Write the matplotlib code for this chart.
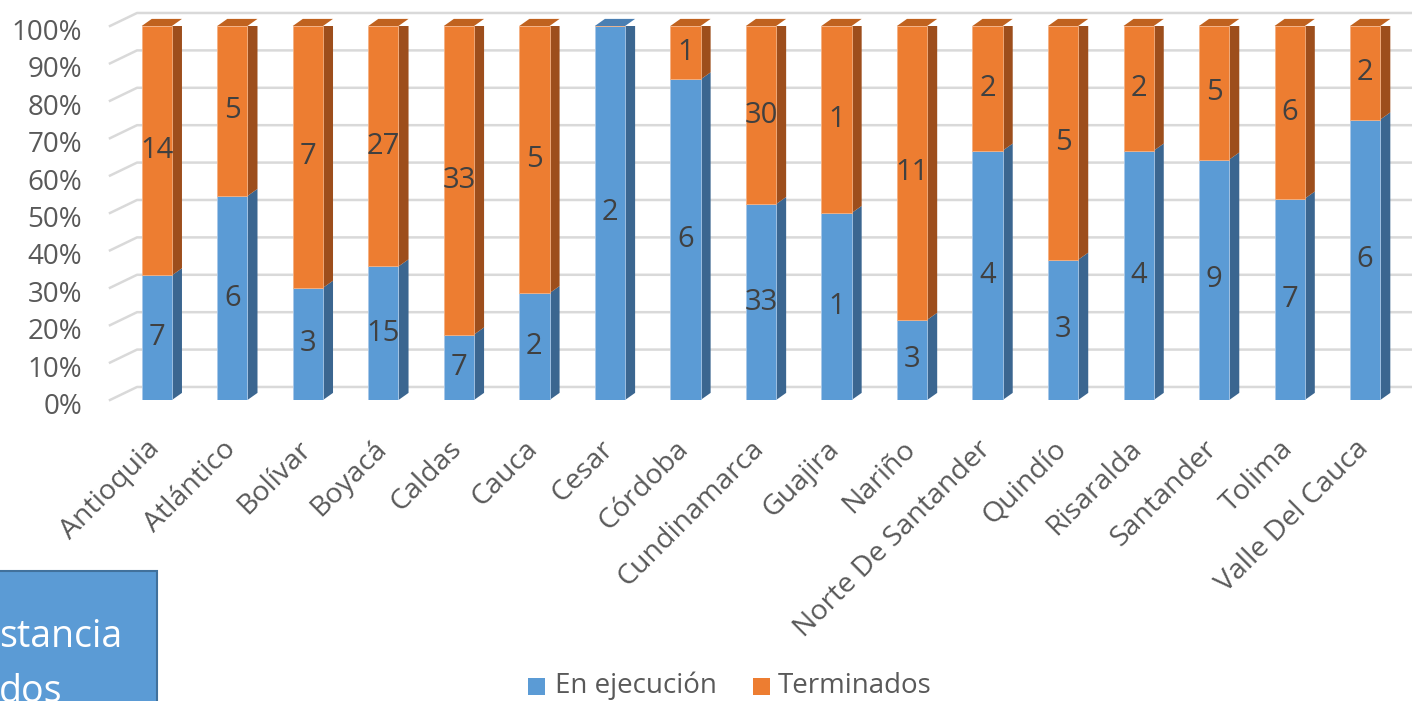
import numpy as np
import matplotlib.pyplot as plt
from matplotlib.patches import Polygon, Rectangle
from matplotlib import transforms

# data
departments = ['Antioquia', 'Atlántico', 'Bolívar', 'Boyacá', 'Caldas', 'Cauca', 'Cesar',
               'Córdoba', 'Cundinamarca', 'Guajira', 'Nariño', 'Norte De Santander',
               'Quindío', 'Risaralda', 'Santander', 'Tolima', 'Valle Del Cauca']
en_ejecucion = [7, 6, 3, 15, 7, 2, 2, 6, 33, 1, 3, 4, 3, 4, 9, 7, 6]
terminados = [14, 5, 7, 27, 33, 5, 0, 1, 30, 1, 11, 2, 5, 2, 5, 6, 2]
y_ticks = list(range(0, 101, 10))

plt.rcParams['font.family'] = ['Open Sans', 'DejaVu Sans']

blue, blue_side, blue_top = '#5b9bd5', '#3b6690', '#4a7fb3'
orange, orange_side, orange_top = '#ed7d31', '#9d4e1c', '#c0621f'

fig = plt.figure(figsize=(14.12, 7.01), dpi=100)
ax = fig.add_axes([110 / 1412, 301 / 701, 1302 / 1412, 374 / 701])
ax.set_xlim(-0.62, 16.62)
ax.set_ylim(0, 100)
ax.axis('off')

# convert to percentages
tot = np.array(en_ejecucion) + np.array(terminados)
p_blue = np.array(en_ejecucion) / tot * 100
p_orange = np.array(terminados) / tot * 100
x = np.arange(len(departments))

# back wall offset and bar depth (in data units)
wall_dx, wall_dy = 0.358, 3.48
bar_dx, bar_dy = 0.133, 1.9
w = 0.4

# gridlines on the floor-to-back wall
for v in y_ticks:
    ax.plot([-0.62, -0.62 + wall_dx, 16.62 + wall_dx], [v, v + wall_dy, v + wall_dy],
            color='#d9d9d9', lw=1.8, clip_on=False, zorder=1)

b1 = ax.bar(x, p_blue, width=w, color=blue, edgecolor='#a9c8e8', linewidth=0.6, zorder=3)
b2 = ax.bar(x, p_orange, width=w, bottom=p_blue, color=orange, edgecolor='#f4b183',
            linewidth=0.6, zorder=3)


def add_3d(rect, side, top, is_top):
    x0, y0 = rect.get_x(), rect.get_y()
    x1, y1 = x0 + rect.get_width(), y0 + rect.get_height()
    if rect.get_height() <= 0:
        return
    ax.add_patch(Polygon([(x1, y0), (x1 + bar_dx, y0 + bar_dy), (x1 + bar_dx, y1 + bar_dy), (x1, y1)],
                         closed=True, facecolor=side, edgecolor='none', zorder=2.9))
    if is_top:
        ax.add_patch(Polygon([(x0, y1), (x0 + bar_dx, y1 + bar_dy), (x1 + bar_dx, y1 + bar_dy), (x1, y1)],
                             closed=True, facecolor=top, edgecolor='none', zorder=2.9, clip_on=False))


for i in range(len(x)):
    add_3d(b1[i], blue_side, blue_top, p_orange[i] == 0)
    add_3d(b2[i], orange_side, orange_top, True)

# data labels
for i in range(len(x)):
    ax.text(x[i], p_blue[i] / 2, str(en_ejecucion[i]), ha='center', va='center',
            fontsize=21, color='#404040', zorder=5)
    if terminados[i] > 0:
        ax.text(x[i], p_blue[i] + p_orange[i] / 2, str(terminados[i]), ha='center', va='center',
                fontsize=21, color='#404040', zorder=5)

# y labels
ytr = transforms.offset_copy(ax.get_yaxis_transform(), fig=fig, x=-28, y=-7, units='dots')
for v in y_ticks:
    ax.text(0, v, f'{v}%', transform=ytr, ha='right', va='center', fontsize=20, color='#595959')

# x labels
xtr = transforms.offset_copy(ax.transData, fig=fig, x=-1, y=-45, units='dots')
for i, name in enumerate(departments):
    ax.text(x[i], 0, name, transform=xtr, ha='right', va='center', rotation=45,
            rotation_mode='anchor', fontsize=20.5, color='#595959')

# legend
fig.patches.append(Rectangle((528 / 1412, 1 - 695 / 701), 17 / 1412, 17 / 701,
                             transform=fig.transFigure, facecolor=blue, edgecolor='none'))
fig.text(555 / 1412, 1 - 686 / 701, 'En ejecución', ha='left', va='center', fontsize=20, color='#595959')
fig.patches.append(Rectangle((753 / 1412, 1 - 695 / 701), 17 / 1412, 17 / 701,
                             transform=fig.transFigure, facecolor=orange, edgecolor='none'))
fig.text(778 / 1412, 1 - 686 / 701, 'Terminados', ha='left', va='center', fontsize=20, color='#595959')

# overlapping text box at bottom left (cut off in the original too)
fig.patches.append(Rectangle((-10 / 1412, -10 / 701), 167 / 1412, (701 - 571 + 10) / 701,
                             transform=fig.transFigure, facecolor=blue, edgecolor='#41719c', lw=1.5))
fig.text(-1 / 1412, 1 - 647 / 701, 'stancia', ha='left', va='baseline', fontsize=27, color='white')
fig.text(-1 / 1412, 1 - 702 / 701, 'dos', ha='left', va='baseline', fontsize=27, color='white')

fig.savefig('out.png', dpi=100)
